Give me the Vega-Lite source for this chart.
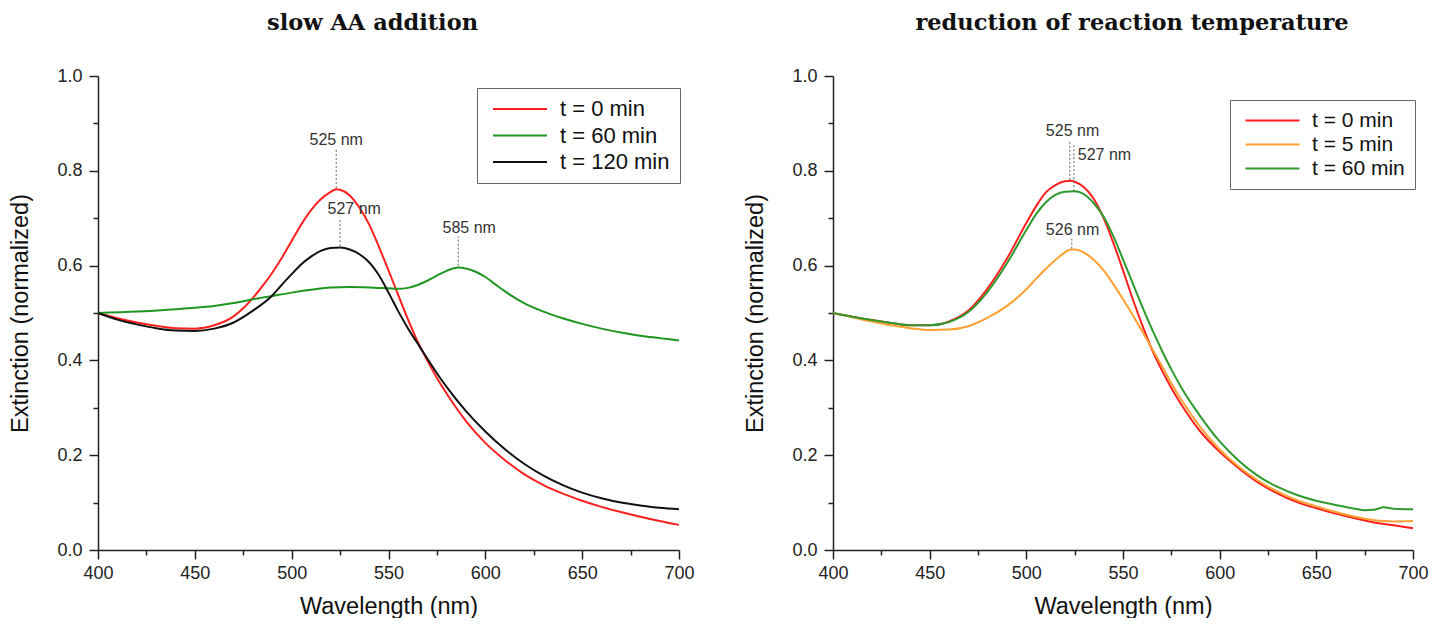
{
  "$schema": "https://vega.github.io/schema/vega-lite/v6.json",
  "background": "white",
  "padding": {"left": 8, "top": 11, "right": 5, "bottom": 0},
  "config": {
    "font": "Liberation Sans",
    "view": {"stroke": null},
    "concat": {"spacing": 48},
    "axis": {
      "grid": false,
      "domainColor": "#222",
      "domainWidth": 1.5,
      "tickColor": "#222",
      "tickWidth": 1.5,
      "labelFont": "Liberation Sans",
      "labelFontSize": 18,
      "labelColor": "#222",
      "labelOverlap": false,
      "labelFlush": false,
      "titleFont": "Liberation Sans",
      "titleFontSize": 23.5,
      "titleFontWeight": "normal",
      "titleColor": "#111"
    },
    "title": {"font": "DejaVu Serif", "fontSize": 22.5, "fontWeight": "bold", "color": "#111", "anchor": "middle", "frame": "group", "offset": 33},
    "legend": {
      "title": null,
      "strokeColor": "#666",
      "padding": 10,
      "labelFont": "Liberation Sans",
      "labelFontSize": 22,
      "labelColor": "#111",
      "symbolType": "M-1,0H9.8",
      "symbolSize": 100,
      "symbolStrokeWidth": 2,
      "labelOffset": 51,
      "rowPadding": 4.5
    }
  },
  "datasets": {
    "left": [
      {"t":"t = 0 min","wl":400,"e":0.500},{"t":"t = 0 min","wl":410,"e":0.489},{"t":"t = 0 min","wl":420,"e":0.480},{"t":"t = 0 min","wl":430,"e":0.473},{"t":"t = 0 min","wl":440,"e":0.468},{"t":"t = 0 min","wl":450,"e":0.467},{"t":"t = 0 min","wl":460,"e":0.474},{"t":"t = 0 min","wl":470,"e":0.493},{"t":"t = 0 min","wl":475,"e":0.510},{"t":"t = 0 min","wl":480,"e":0.532},{"t":"t = 0 min","wl":485,"e":0.557},{"t":"t = 0 min","wl":490,"e":0.585},{"t":"t = 0 min","wl":495,"e":0.617},{"t":"t = 0 min","wl":500,"e":0.652},{"t":"t = 0 min","wl":505,"e":0.687},{"t":"t = 0 min","wl":510,"e":0.717},{"t":"t = 0 min","wl":515,"e":0.740},{"t":"t = 0 min","wl":520,"e":0.755},{"t":"t = 0 min","wl":523,"e":0.761},{"t":"t = 0 min","wl":525,"e":0.760},{"t":"t = 0 min","wl":530,"e":0.748},{"t":"t = 0 min","wl":535,"e":0.722},{"t":"t = 0 min","wl":540,"e":0.687},{"t":"t = 0 min","wl":545,"e":0.640},{"t":"t = 0 min","wl":550,"e":0.590},{"t":"t = 0 min","wl":555,"e":0.538},{"t":"t = 0 min","wl":560,"e":0.487},{"t":"t = 0 min","wl":565,"e":0.440},{"t":"t = 0 min","wl":570,"e":0.400},{"t":"t = 0 min","wl":575,"e":0.363},{"t":"t = 0 min","wl":580,"e":0.330},{"t":"t = 0 min","wl":590,"e":0.272},{"t":"t = 0 min","wl":600,"e":0.226},{"t":"t = 0 min","wl":610,"e":0.190},{"t":"t = 0 min","wl":620,"e":0.160},{"t":"t = 0 min","wl":630,"e":0.137},{"t":"t = 0 min","wl":640,"e":0.119},{"t":"t = 0 min","wl":650,"e":0.104},{"t":"t = 0 min","wl":660,"e":0.091},{"t":"t = 0 min","wl":670,"e":0.080},{"t":"t = 0 min","wl":680,"e":0.070},{"t":"t = 0 min","wl":690,"e":0.061},{"t":"t = 0 min","wl":700,"e":0.053},
      {"t":"t = 60 min","wl":400,"e":0.500},{"t":"t = 60 min","wl":420,"e":0.503},{"t":"t = 60 min","wl":440,"e":0.508},{"t":"t = 60 min","wl":450,"e":0.511},{"t":"t = 60 min","wl":460,"e":0.515},{"t":"t = 60 min","wl":470,"e":0.521},{"t":"t = 60 min","wl":480,"e":0.529},{"t":"t = 60 min","wl":490,"e":0.536},{"t":"t = 60 min","wl":500,"e":0.543},{"t":"t = 60 min","wl":510,"e":0.549},{"t":"t = 60 min","wl":520,"e":0.554},{"t":"t = 60 min","wl":530,"e":0.555},{"t":"t = 60 min","wl":540,"e":0.554},{"t":"t = 60 min","wl":550,"e":0.552},{"t":"t = 60 min","wl":555,"e":0.551},{"t":"t = 60 min","wl":560,"e":0.553},{"t":"t = 60 min","wl":565,"e":0.559},{"t":"t = 60 min","wl":570,"e":0.568},{"t":"t = 60 min","wl":575,"e":0.579},{"t":"t = 60 min","wl":580,"e":0.589},{"t":"t = 60 min","wl":586,"e":0.596},{"t":"t = 60 min","wl":590,"e":0.594},{"t":"t = 60 min","wl":595,"e":0.587},{"t":"t = 60 min","wl":600,"e":0.576},{"t":"t = 60 min","wl":605,"e":0.561},{"t":"t = 60 min","wl":610,"e":0.546},{"t":"t = 60 min","wl":620,"e":0.521},{"t":"t = 60 min","wl":630,"e":0.503},{"t":"t = 60 min","wl":640,"e":0.489},{"t":"t = 60 min","wl":650,"e":0.477},{"t":"t = 60 min","wl":660,"e":0.467},{"t":"t = 60 min","wl":670,"e":0.459},{"t":"t = 60 min","wl":680,"e":0.452},{"t":"t = 60 min","wl":690,"e":0.447},{"t":"t = 60 min","wl":700,"e":0.442},
      {"t":"t = 120 min","wl":400,"e":0.500},{"t":"t = 120 min","wl":410,"e":0.486},{"t":"t = 120 min","wl":420,"e":0.476},{"t":"t = 120 min","wl":430,"e":0.468},{"t":"t = 120 min","wl":440,"e":0.463},{"t":"t = 120 min","wl":450,"e":0.462},{"t":"t = 120 min","wl":460,"e":0.467},{"t":"t = 120 min","wl":470,"e":0.480},{"t":"t = 120 min","wl":480,"e":0.505},{"t":"t = 120 min","wl":490,"e":0.537},{"t":"t = 120 min","wl":495,"e":0.560},{"t":"t = 120 min","wl":500,"e":0.582},{"t":"t = 120 min","wl":505,"e":0.603},{"t":"t = 120 min","wl":510,"e":0.619},{"t":"t = 120 min","wl":515,"e":0.631},{"t":"t = 120 min","wl":520,"e":0.637},{"t":"t = 120 min","wl":525,"e":0.638},{"t":"t = 120 min","wl":530,"e":0.634},{"t":"t = 120 min","wl":535,"e":0.624},{"t":"t = 120 min","wl":540,"e":0.607},{"t":"t = 120 min","wl":545,"e":0.580},{"t":"t = 120 min","wl":550,"e":0.543},{"t":"t = 120 min","wl":555,"e":0.504},{"t":"t = 120 min","wl":560,"e":0.468},{"t":"t = 120 min","wl":565,"e":0.436},{"t":"t = 120 min","wl":570,"e":0.404},{"t":"t = 120 min","wl":575,"e":0.373},{"t":"t = 120 min","wl":580,"e":0.344},{"t":"t = 120 min","wl":590,"e":0.293},{"t":"t = 120 min","wl":600,"e":0.250},{"t":"t = 120 min","wl":610,"e":0.213},{"t":"t = 120 min","wl":620,"e":0.182},{"t":"t = 120 min","wl":630,"e":0.157},{"t":"t = 120 min","wl":640,"e":0.137},{"t":"t = 120 min","wl":650,"e":0.121},{"t":"t = 120 min","wl":660,"e":0.109},{"t":"t = 120 min","wl":670,"e":0.100},{"t":"t = 120 min","wl":680,"e":0.094},{"t":"t = 120 min","wl":690,"e":0.089},{"t":"t = 120 min","wl":700,"e":0.086}
    ],
    "right": [
      {"t":"t = 0 min","wl":400,"e":0.500},{"t":"t = 0 min","wl":410,"e":0.492},{"t":"t = 0 min","wl":420,"e":0.485},{"t":"t = 0 min","wl":430,"e":0.479},{"t":"t = 0 min","wl":440,"e":0.474},{"t":"t = 0 min","wl":450,"e":0.474},{"t":"t = 0 min","wl":460,"e":0.482},{"t":"t = 0 min","wl":470,"e":0.505},{"t":"t = 0 min","wl":480,"e":0.552},{"t":"t = 0 min","wl":490,"e":0.615},{"t":"t = 0 min","wl":500,"e":0.690},{"t":"t = 0 min","wl":505,"e":0.725},{"t":"t = 0 min","wl":510,"e":0.754},{"t":"t = 0 min","wl":515,"e":0.770},{"t":"t = 0 min","wl":520,"e":0.778},{"t":"t = 0 min","wl":523,"e":0.779},{"t":"t = 0 min","wl":525,"e":0.777},{"t":"t = 0 min","wl":530,"e":0.765},{"t":"t = 0 min","wl":535,"e":0.740},{"t":"t = 0 min","wl":540,"e":0.700},{"t":"t = 0 min","wl":545,"e":0.648},{"t":"t = 0 min","wl":550,"e":0.590},{"t":"t = 0 min","wl":555,"e":0.530},{"t":"t = 0 min","wl":560,"e":0.474},{"t":"t = 0 min","wl":565,"e":0.423},{"t":"t = 0 min","wl":570,"e":0.380},{"t":"t = 0 min","wl":575,"e":0.342},{"t":"t = 0 min","wl":580,"e":0.308},{"t":"t = 0 min","wl":590,"e":0.250},{"t":"t = 0 min","wl":600,"e":0.207},{"t":"t = 0 min","wl":610,"e":0.172},{"t":"t = 0 min","wl":620,"e":0.142},{"t":"t = 0 min","wl":630,"e":0.119},{"t":"t = 0 min","wl":640,"e":0.101},{"t":"t = 0 min","wl":650,"e":0.088},{"t":"t = 0 min","wl":660,"e":0.077},{"t":"t = 0 min","wl":670,"e":0.067},{"t":"t = 0 min","wl":680,"e":0.058},{"t":"t = 0 min","wl":685,"e":0.055},{"t":"t = 0 min","wl":690,"e":0.052},{"t":"t = 0 min","wl":700,"e":0.046},
      {"t":"t = 5 min","wl":400,"e":0.500},{"t":"t = 5 min","wl":410,"e":0.491},{"t":"t = 5 min","wl":420,"e":0.482},{"t":"t = 5 min","wl":430,"e":0.474},{"t":"t = 5 min","wl":440,"e":0.468},{"t":"t = 5 min","wl":450,"e":0.464},{"t":"t = 5 min","wl":460,"e":0.465},{"t":"t = 5 min","wl":470,"e":0.472},{"t":"t = 5 min","wl":480,"e":0.490},{"t":"t = 5 min","wl":490,"e":0.515},{"t":"t = 5 min","wl":500,"e":0.550},{"t":"t = 5 min","wl":505,"e":0.572},{"t":"t = 5 min","wl":510,"e":0.593},{"t":"t = 5 min","wl":515,"e":0.612},{"t":"t = 5 min","wl":520,"e":0.628},{"t":"t = 5 min","wl":523,"e":0.634},{"t":"t = 5 min","wl":525,"e":0.634},{"t":"t = 5 min","wl":530,"e":0.627},{"t":"t = 5 min","wl":535,"e":0.612},{"t":"t = 5 min","wl":540,"e":0.590},{"t":"t = 5 min","wl":545,"e":0.561},{"t":"t = 5 min","wl":550,"e":0.529},{"t":"t = 5 min","wl":555,"e":0.496},{"t":"t = 5 min","wl":560,"e":0.461},{"t":"t = 5 min","wl":565,"e":0.425},{"t":"t = 5 min","wl":570,"e":0.389},{"t":"t = 5 min","wl":575,"e":0.352},{"t":"t = 5 min","wl":580,"e":0.318},{"t":"t = 5 min","wl":590,"e":0.259},{"t":"t = 5 min","wl":600,"e":0.212},{"t":"t = 5 min","wl":610,"e":0.175},{"t":"t = 5 min","wl":620,"e":0.146},{"t":"t = 5 min","wl":630,"e":0.123},{"t":"t = 5 min","wl":640,"e":0.105},{"t":"t = 5 min","wl":650,"e":0.092},{"t":"t = 5 min","wl":660,"e":0.080},{"t":"t = 5 min","wl":670,"e":0.070},{"t":"t = 5 min","wl":680,"e":0.063},{"t":"t = 5 min","wl":685,"e":0.061},{"t":"t = 5 min","wl":690,"e":0.060},{"t":"t = 5 min","wl":700,"e":0.061},
      {"t":"t = 60 min","wl":400,"e":0.500},{"t":"t = 60 min","wl":410,"e":0.492},{"t":"t = 60 min","wl":420,"e":0.485},{"t":"t = 60 min","wl":430,"e":0.479},{"t":"t = 60 min","wl":440,"e":0.474},{"t":"t = 60 min","wl":450,"e":0.474},{"t":"t = 60 min","wl":460,"e":0.481},{"t":"t = 60 min","wl":470,"e":0.502},{"t":"t = 60 min","wl":480,"e":0.545},{"t":"t = 60 min","wl":490,"e":0.605},{"t":"t = 60 min","wl":500,"e":0.675},{"t":"t = 60 min","wl":505,"e":0.708},{"t":"t = 60 min","wl":510,"e":0.733},{"t":"t = 60 min","wl":515,"e":0.749},{"t":"t = 60 min","wl":520,"e":0.756},{"t":"t = 60 min","wl":525,"e":0.757},{"t":"t = 60 min","wl":530,"e":0.750},{"t":"t = 60 min","wl":535,"e":0.731},{"t":"t = 60 min","wl":540,"e":0.703},{"t":"t = 60 min","wl":545,"e":0.662},{"t":"t = 60 min","wl":550,"e":0.613},{"t":"t = 60 min","wl":555,"e":0.563},{"t":"t = 60 min","wl":560,"e":0.513},{"t":"t = 60 min","wl":565,"e":0.466},{"t":"t = 60 min","wl":570,"e":0.422},{"t":"t = 60 min","wl":575,"e":0.381},{"t":"t = 60 min","wl":580,"e":0.344},{"t":"t = 60 min","wl":590,"e":0.282},{"t":"t = 60 min","wl":600,"e":0.229},{"t":"t = 60 min","wl":610,"e":0.188},{"t":"t = 60 min","wl":620,"e":0.156},{"t":"t = 60 min","wl":630,"e":0.133},{"t":"t = 60 min","wl":640,"e":0.116},{"t":"t = 60 min","wl":650,"e":0.104},{"t":"t = 60 min","wl":660,"e":0.095},{"t":"t = 60 min","wl":670,"e":0.087},{"t":"t = 60 min","wl":675,"e":0.084},{"t":"t = 60 min","wl":680,"e":0.085},{"t":"t = 60 min","wl":685,"e":0.090},{"t":"t = 60 min","wl":690,"e":0.087},{"t":"t = 60 min","wl":700,"e":0.086}
    ],
    "leftPeaks": [
      {"x":523,"y1":0.764,"y2":0.845,"lx":523,"ly":0.864,"label":"525 nm"},
      {"x":525,"y1":0.641,"y2":0.701,"lx":532.3,"ly":0.719,"label":"527 nm"},
      {"x":586,"y1":0.600,"y2":0.662,"lx":591.7,"ly":0.679,"label":"585 nm"}
    ],
    "rightPeaks": [
      {"x":522.5,"y1":0.781,"y2":0.865,"lx":523.9,"ly":0.883,"label":"525 nm"},
      {"x":524.6,"y1":0.757,"y2":0.855,"lx":540.4,"ly":0.834,"label":"527 nm"},
      {"x":523.5,"y1":0.636,"y2":0.657,"lx":523.9,"ly":0.675,"label":"526 nm"}
    ]
  },
  "resolve": {"scale": {"color": "independent"}},
  "hconcat": [
    {
      "width": 581,
      "height": 474,
      "title": {"text": "slow AA addition", "dx": -16},
      "layer": [
        {
          "data": {"name": "left"},
          "mark": {"type": "line", "strokeWidth": 2, "interpolate": "monotone"},
          "encoding": {
            "x": {"field": "wl", "type": "quantitative", "scale": {"domain": [400, 700], "nice": false, "zero": false},
              "axis": {"title": "Wavelength (nm)", "values": [400,425,450,475,500,525,550,575,600,625,650,675,700],
                "labelExpr": "datum.value % 50 == 0 ? datum.label : ''",
                "tickSize": {"condition": {"test": "datum.value % 50 == 0", "value": 9}, "value": 5},
                "labelPadding": 5, "titlePadding": 12}},
            "y": {"field": "e", "type": "quantitative", "scale": {"domain": [0, 1], "nice": false},
              "axis": {"title": "Extinction (normalized)", "values": [0,0.1,0.2,0.3,0.4,0.5,0.6,0.7,0.8,0.9,1.0],
                "labelExpr": "round(datum.value*10) % 2 == 0 ? format(datum.value, '.1f') : ''",
                "tickSize": {"condition": {"test": "round(datum.value*10) % 2 == 0", "value": 9}, "value": 5},
                "labelPadding": 7, "titlePadding": 24}},
            "color": {"field": "t", "type": "nominal",
              "scale": {"domain": ["t = 0 min", "t = 60 min", "t = 120 min"], "range": ["#ff1f1f", "#1f961f", "#111111"]},
              "legend": {"orient": "none", "legendX": 379, "legendY": 12}}
          }
        },
        {
          "data": {"name": "leftPeaks"},
          "mark": {"type": "rule", "strokeDash": [2, 2], "strokeWidth": 1, "color": "#666"},
          "encoding": {"x": {"field": "x", "type": "quantitative"}, "y": {"field": "y1", "type": "quantitative"}, "y2": {"field": "y2"}}
        },
        {
          "data": {"name": "leftPeaks"},
          "mark": {"type": "text", "fontSize": 16, "color": "#333", "align": "center", "baseline": "middle", "font": "Liberation Sans"},
          "encoding": {"x": {"field": "lx", "type": "quantitative"}, "y": {"field": "ly", "type": "quantitative"}, "text": {"field": "label"}}
        }
      ]
    },
    {
      "width": 580,
      "height": 474,
      "title": {"text": "reduction of reaction temperature", "dx": 9},
      "layer": [
        {
          "data": {"name": "right"},
          "mark": {"type": "line", "strokeWidth": 2, "interpolate": "monotone"},
          "encoding": {
            "x": {"field": "wl", "type": "quantitative", "scale": {"domain": [400, 700], "nice": false, "zero": false},
              "axis": {"title": "Wavelength (nm)", "values": [400,425,450,475,500,525,550,575,600,625,650,675,700],
                "labelExpr": "datum.value % 50 == 0 ? datum.label : ''",
                "tickSize": {"condition": {"test": "datum.value % 50 == 0", "value": 9}, "value": 5},
                "labelPadding": 5, "titlePadding": 12}},
            "y": {"field": "e", "type": "quantitative", "scale": {"domain": [0, 1], "nice": false},
              "axis": {"title": "Extinction (normalized)", "values": [0,0.1,0.2,0.3,0.4,0.5,0.6,0.7,0.8,0.9,1.0],
                "labelExpr": "round(datum.value*10) % 2 == 0 ? format(datum.value, '.1f') : ''",
                "tickSize": {"condition": {"test": "round(datum.value*10) % 2 == 0", "value": 9}, "value": 5},
                "labelPadding": 7, "titlePadding": 24}},
            "color": {"field": "t", "type": "nominal",
              "scale": {"domain": ["t = 0 min", "t = 5 min", "t = 60 min"], "range": ["#ff1f1f", "#ffa033", "#2e9a2e"]},
              "legend": {"orient": "none", "legendX": 397, "legendY": 24, "rowPadding": 2, "labelFontSize": 21}}
          }
        },
        {
          "data": {"name": "rightPeaks"},
          "mark": {"type": "rule", "strokeDash": [2, 2], "strokeWidth": 1, "color": "#666"},
          "encoding": {"x": {"field": "x", "type": "quantitative"}, "y": {"field": "y1", "type": "quantitative"}, "y2": {"field": "y2"}}
        },
        {
          "data": {"name": "rightPeaks"},
          "mark": {"type": "text", "fontSize": 16, "color": "#333", "align": "center", "baseline": "middle", "font": "Liberation Sans"},
          "encoding": {"x": {"field": "lx", "type": "quantitative"}, "y": {"field": "ly", "type": "quantitative"}, "text": {"field": "label"}}
        }
      ]
    }
  ]
}
